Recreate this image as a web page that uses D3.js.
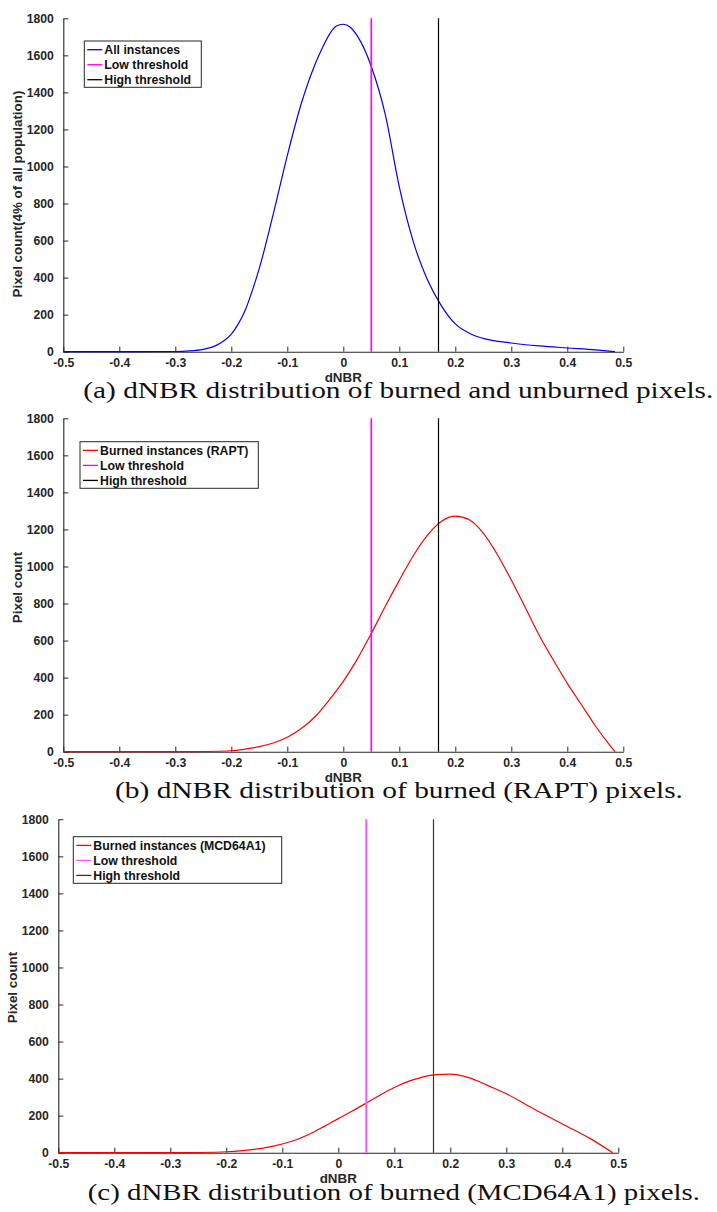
<!DOCTYPE html>
<html>
<head>
<meta charset="utf-8">
<script src="https://cdn.jsdelivr.net/npm/d3@7"></script>
<style>
  html, body { margin: 0; padding: 0; background: #fff; }
  svg { display: block; }
</style>
</head>
<body>
<svg id="fig" width="717" height="1212"></svg>
<script>
// axis ticks shared by the three panels
var xTicks = [-0.5, -0.4, -0.3, -0.2, -0.1, 0, 0.1, 0.2, 0.3, 0.4, 0.5];
var xTickLabels = ['-0.5', '-0.4', '-0.3', '-0.2', '-0.1', '0', '0.1', '0.2', '0.3', '0.4', '0.5'];
var yTicks = [0, 200, 400, 600, 800, 1000, 1200, 1400, 1600, 1800];
var lowThreshold = 0.05, highThreshold = 0.17;

// (a) all instances
var dnbrA = [-0.5, -0.4, -0.3, -0.275, -0.25, -0.2375, -0.225, -0.2125, -0.2, -0.1875, -0.175, -0.1625, -0.15, -0.125, -0.1, -0.075, -0.05, -0.0375, -0.025, -0.0125, 0, 0.0125, 0.025, 0.05, 0.075, 0.1, 0.125, 0.15, 0.175, 0.2, 0.225, 0.25, 0.3, 0.35, 0.4, 0.45, 0.485];
var countA = [0, 0, 1, 4, 13, 22, 37, 60, 95, 150, 225, 330, 450, 744, 1059, 1340, 1555, 1640, 1712, 1758, 1768, 1752, 1705, 1540, 1280, 890, 594, 390, 249, 150, 100, 72, 47, 31, 20, 10, 0];

// (b) burned instances (RAPT)
var dnbrB = [-0.5, -0.3, -0.25, -0.2, -0.175, -0.15, -0.125, -0.1, -0.075, -0.05, -0.025, 0, 0.025, 0.05, 0.075, 0.1, 0.125, 0.15, 0.175, 0.2, 0.225, 0.25, 0.275, 0.3, 0.325, 0.35, 0.375, 0.4, 0.425, 0.45, 0.475, 0.485];
var countB = [0, 0, 1, 5, 14, 27, 47, 78, 125, 190, 280, 380, 500, 638, 785, 925, 1058, 1168, 1243, 1272, 1252, 1180, 1065, 927, 778, 627, 495, 369, 255, 140, 38, 0];

// (c) burned instances (MCD64A1)
var dnbrC = [-0.5, -0.3, -0.25, -0.2, -0.175, -0.15, -0.125, -0.1, -0.075, -0.05, -0.025, 0, 0.025, 0.05, 0.075, 0.1, 0.125, 0.15, 0.175, 0.2, 0.225, 0.25, 0.275, 0.3, 0.35, 0.4, 0.45, 0.49];
var countC = [0, 0, 1, 5, 10, 18, 30, 47, 70, 102, 142, 184, 225, 268, 312, 352, 385, 408, 421, 424, 412, 386, 352, 318, 235, 155, 76, 0];

var legendA = ['All instances', 'Low threshold', 'High threshold'];
var legendB = ['Burned instances (RAPT)', 'Low threshold', 'High threshold'];
var legendC = ['Burned instances (MCD64A1)', 'Low threshold', 'High threshold'];

var captionA = '(a) dNBR distribution of burned and unburned pixels.';
var captionB = '(b) dNBR distribution of burned (RAPT) pixels.';
var captionC = '(c) dNBR distribution of burned (MCD64A1) pixels.';

var SANS = '"Liberation Sans", Arial, Helvetica, sans-serif';
var SERIF = '"Liberation Serif", "Times New Roman", serif';
var AXIS = '#262626';
var W = 560, H = 333.4;

var panels = [
  { xs: dnbrA, ys: countA, color: '#0000ff', yLabel: 'Pixel count(4% of all population)', legend: legendA, caption: captionA,
    left: 63.3, top: 18.3, labelCY: 194, box: [84.3, 41, 201.3, 87.3], cap: [83.3, 713.3, 398],
    low: { color: '#ff00ff', width: 1.7 }, high: { color: '#000', width: 1.2 } },
  { xs: dnbrB, ys: countB, color: '#ff0000', yLabel: 'Pixel count', legend: legendB, caption: captionB,
    left: 63.3, top: 418.3, labelCY: 587.5, box: [80, 441.7, 258.3, 488.3], cap: [115, 683, 798],
    low: { color: '#ff00ff', width: 1.7 }, high: { color: '#000', width: 1.2 } },
  { xs: dnbrC, ys: countC, color: '#ff0000', yLabel: 'Pixel count', legend: legendC, caption: captionC,
    left: 58.3, top: 819.3, labelCY: 987.5, box: [73.3, 836.7, 281.7, 883.3], cap: [87.7, 700, 1200],
    low: { color: '#ff55ff', width: 2 }, high: { color: '#333', width: 1.2 } }
];

var svg = d3.select('#fig');

panels.forEach(function (p) {
  var x = d3.scaleLinear().domain([-0.5, 0.5]).range([p.left, p.left + W]);
  var y = d3.scaleLinear().domain([0, 1800]).range([p.top + H, p.top]);
  var g = svg.append('g');

  // axes (left + bottom only, ticks pointing inward)
  var ax = g.append('g').attr('transform', 'translate(0,' + (p.top + H) + ')')
    .call(d3.axisBottom(x).tickValues(xTicks).tickFormat(function (d, i) { return xTickLabels[i]; })
      .tickSizeInner(-5).tickSizeOuter(0).tickPadding(6.3));
  var ay = g.append('g').attr('transform', 'translate(' + p.left + ',0)')
    .call(d3.axisLeft(y).tickValues(yTicks).tickFormat(d3.format('d'))
      .tickSizeInner(-5).tickSizeOuter(0).tickPadding(9.5));
  [ax, ay].forEach(function (a) {
    a.attr('color', AXIS).attr('font-family', SANS).attr('font-size', 12.2);
    a.selectAll('text').style('font-weight', '700').style('font-family', SANS);
    a.select('.domain').attr('stroke-width', 1.1);
  });

  // curve
  var line = d3.line().x(function (d) { return x(d[0]); }).y(function (d) { return y(d[1]); })
    .curve(d3.curveMonotoneX);
  g.append('path').datum(d3.zip(p.xs, p.ys)).attr('d', line)
    .attr('fill', 'none').attr('stroke', p.color).attr('stroke-width', 1.2);

  // thresholds
  [[lowThreshold, p.low], [highThreshold, p.high]].forEach(function (t) {
    g.append('line').attr('x1', x(t[0])).attr('x2', x(t[0])).attr('y1', y(0)).attr('y2', y(1800))
      .attr('stroke', t[1].color).attr('stroke-width', t[1].width);
  });

  // axis labels
  g.append('text').attr('x', p.left + W / 2).attr('y', p.top + H + 30.6)
    .attr('text-anchor', 'middle').attr('font-family', SANS).style('font-weight', '700')
    .attr('font-size', 13.4).attr('fill', AXIS).text('dNBR');
  g.append('text').attr('transform', 'translate(' + (p.left - 41.5) + ',' + p.labelCY + ') rotate(-90)')
    .attr('text-anchor', 'middle').attr('font-family', SANS).style('font-weight', '700')
    .attr('font-size', 13.4).attr('fill', AXIS).text(p.yLabel);

  // legend
  var b = p.box;
  g.append('rect').attr('x', b[0]).attr('y', b[1]).attr('width', b[2] - b[0]).attr('height', b[3] - b[1])
    .attr('fill', '#fff').attr('stroke', AXIS).attr('stroke-width', 1);
  var legColors = [p.color, p.low.color, p.high.color];
  p.legend.forEach(function (lab, i) {
    var cy = b[1] + 8.7 + 15 * i;
    g.append('line').attr('x1', b[0] + 3).attr('x2', b[0] + 18).attr('y1', cy).attr('y2', cy)
      .attr('stroke', legColors[i]).attr('stroke-width', 1.3);
    g.append('text').attr('x', b[0] + 20).attr('y', cy).attr('dy', '0.36em')
      .attr('font-family', SANS).style('font-weight', '700').attr('font-size', 12.3)
      .attr('fill', '#111').text(lab);
  });

  // caption
  g.append('text').attr('x', p.cap[0]).attr('y', p.cap[2])
    .attr('textLength', p.cap[1] - p.cap[0]).attr('lengthAdjust', 'spacingAndGlyphs')
    .attr('font-family', SERIF).attr('font-size', 22.5).attr('fill', '#111').text(p.caption);
});
</script>
</body>
</html>
